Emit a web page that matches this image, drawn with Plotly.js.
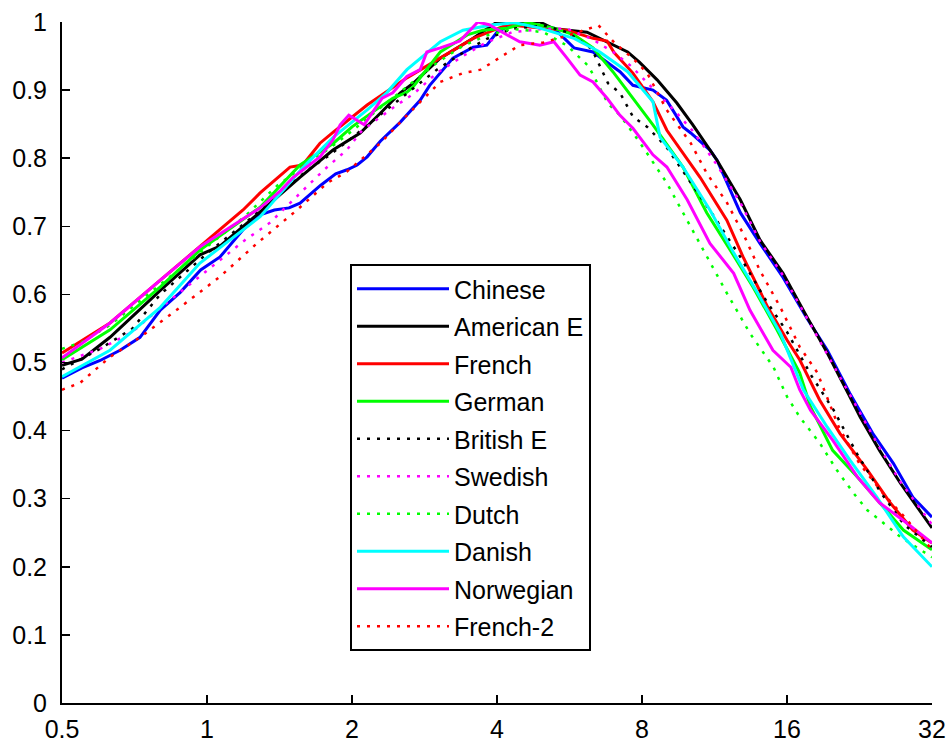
<!DOCTYPE html>
<html>
<head>
<meta charset="utf-8">
<script src="https://cdn.plot.ly/plotly-3.0.1.min.js"></script>
<style>html,body{margin:0;padding:0;background:#fff;}#chart{width:951px;height:738px;}</style>
</head>
<body>
<div id="chart"></div>
<script>
// ---- data ----
const xTicks = [0.5, 1, 2, 4, 8, 16, 32];
const xTickLabels = ["0.5", "1", "2", "4", "8", "16", "32"];
const yTicks = [0, 0.1, 0.2, 0.3, 0.4, 0.5, 0.6, 0.7, 0.8, 0.9, 1];
const yTickLabels = ["0", "0.1", "0.2", "0.3", "0.4", "0.5", "0.6", "0.7", "0.8", "0.9", "1"];

const chineseX = [0.5, 0.55, 0.6, 0.66, 0.726, 0.8, 0.88, 0.97, 1.064, 1.188, 1.289, 1.38, 1.48, 1.56, 1.72, 1.85, 1.953, 2.05, 2.15, 2.29, 2.52, 2.77, 2.9, 3.24, 3.57, 3.81, 4.0, 4.36, 4.64, 5.25, 5.78, 6.33, 7.2, 7.66, 8.43, 9.0, 9.45, 9.73, 10.1, 11.07, 11.45, 12.8, 14.06, 15.7, 17.6, 19.4, 21.6, 24.1, 26.6, 29.2, 32];
const chineseY = [0.477, 0.492, 0.503, 0.518, 0.537, 0.577, 0.603, 0.636, 0.655, 0.695, 0.717, 0.724, 0.727, 0.734, 0.76, 0.777, 0.783, 0.79, 0.802, 0.825, 0.853, 0.885, 0.907, 0.947, 0.963, 0.966, 0.985, 0.999, 0.996, 0.991, 0.962, 0.956, 0.927, 0.907, 0.900, 0.885, 0.861, 0.846, 0.837, 0.812, 0.797, 0.72, 0.675, 0.625, 0.565, 0.518, 0.455, 0.396, 0.352, 0.302, 0.273];

const americanX = [0.5, 0.55, 0.629, 0.8, 0.967, 1.064, 1.289, 1.559, 1.826, 2.08, 2.29, 2.52, 2.68, 3.05, 3.57, 4.0, 4.91, 5.25, 6.15, 6.54, 6.96, 7.47, 7.9, 8.43, 8.6, 9.45, 10.2, 11.45, 12.8, 14.06, 15.7, 17.6, 19.4, 21.6, 22.7, 24.9, 27.5, 29.8, 32];
const americanY = [0.496, 0.505, 0.537, 0.606, 0.658, 0.671, 0.721, 0.772, 0.812, 0.837, 0.866, 0.896, 0.910, 0.947, 0.976, 1.0, 1.0, 0.99, 0.985, 0.976, 0.966, 0.956, 0.941, 0.922, 0.915, 0.881, 0.849, 0.797, 0.739, 0.680, 0.631, 0.567, 0.514, 0.45, 0.42, 0.371, 0.323, 0.288, 0.257];

const frenchX = [0.5, 0.629, 0.8, 0.967, 1.188, 1.289, 1.487, 1.58, 1.716, 1.826, 1.953, 2.15, 2.6, 3.05, 3.57, 4.2, 4.91, 5.59, 6.33, 6.77, 7.0, 7.66, 8.43, 9.01, 10.56, 12.0, 12.97, 14.6, 16, 17.0, 18.7, 20.6, 23.5, 26.2, 29.2, 32];
const frenchY = [0.514, 0.558, 0.621, 0.67, 0.724, 0.749, 0.787, 0.790, 0.822, 0.838, 0.855, 0.878, 0.918, 0.947, 0.976, 0.996, 0.991, 0.988, 0.976, 0.972, 0.955, 0.925, 0.883, 0.841, 0.772, 0.709, 0.655, 0.581, 0.533, 0.504, 0.445, 0.396, 0.342, 0.294, 0.254, 0.235];

const germanX = [0.5, 0.629, 0.8, 0.967, 1.289, 1.56, 1.83, 2.0, 2.21, 2.43, 2.6, 2.68, 3.05, 3.47, 3.74, 4.2, 4.64, 5.25, 5.78, 6.33, 6.96, 7.66, 8.43, 9.73, 10.9, 12.2, 13.6, 15.25, 17.0, 17.9, 19.9, 22.4, 24.9, 27.9, 32];
const germanY = [0.504, 0.548, 0.611, 0.665, 0.728, 0.79, 0.822, 0.846, 0.868, 0.888, 0.897, 0.905, 0.956, 0.981, 0.988, 0.991, 0.999, 0.991, 0.981, 0.962, 0.927, 0.888, 0.849, 0.787, 0.72, 0.665, 0.611, 0.548, 0.485, 0.435, 0.371, 0.332, 0.294, 0.254, 0.225];

const britishX = [0.5, 0.6, 0.7, 0.8, 1.0, 1.2, 1.4, 1.6, 1.8, 2.0, 2.3, 2.6, 3.0, 3.4, 3.8, 4.3, 5.0, 5.6, 6.3, 6.8, 7.2, 7.66, 8.2, 9.0, 10.1, 11.3, 12.8, 14.5, 16, 18, 20, 22.4, 25, 28, 32];
const britishY = [0.49, 0.52, 0.55, 0.60, 0.66, 0.705, 0.745, 0.78, 0.805, 0.83, 0.865, 0.895, 0.93, 0.955, 0.975, 0.99, 0.995, 0.985, 0.96, 0.91, 0.896, 0.861, 0.846, 0.816, 0.764, 0.714, 0.655, 0.59, 0.545, 0.48, 0.43, 0.365, 0.31, 0.262, 0.229];

const swedishX = [0.5, 0.6, 0.7, 0.8, 1.0, 1.2, 1.35, 1.56, 1.75, 1.95, 2.1, 2.4, 2.7, 3.0, 3.4, 3.8, 4.3, 5.0, 5.6, 6.3, 7.0, 7.6, 8.5, 9.45, 10.2, 11.45, 12.8, 14.06, 15.7, 17.6, 19.4, 21.6, 24.9, 27.5, 32];
const swedishY = [0.50, 0.52, 0.545, 0.58, 0.635, 0.68, 0.705, 0.749, 0.783, 0.812, 0.841, 0.871, 0.896, 0.925, 0.95, 0.97, 0.985, 0.99, 0.99, 0.975, 0.955, 0.935, 0.90, 0.866, 0.84, 0.79, 0.735, 0.678, 0.628, 0.565, 0.512, 0.452, 0.375, 0.325, 0.262];

const dutchX = [0.5, 0.55, 0.629, 0.8, 1.0, 1.2, 1.4, 1.6, 1.8, 2.0, 2.3, 2.6, 3.0, 3.4, 3.8, 4.3, 5.0, 5.6, 6.2, 6.8, 7.2, 7.7, 8.04, 9.0, 9.93, 10.9, 12.0, 13.4, 15.0, 16.0, 17.0, 18.7, 20.3, 22.0, 23.5, 24.9, 27.5, 32];
const dutchY = [0.52, 0.53, 0.555, 0.615, 0.67, 0.715, 0.76, 0.79, 0.815, 0.84, 0.875, 0.905, 0.94, 0.965, 0.98, 0.99, 0.985, 0.965, 0.935, 0.88, 0.863, 0.835, 0.816, 0.764, 0.709, 0.655, 0.602, 0.543, 0.493, 0.45, 0.42, 0.382, 0.342, 0.308, 0.283, 0.269, 0.244, 0.214];

const danishX = [0.5, 0.629, 0.8, 0.967, 1.289, 1.59, 1.83, 2.15, 2.36, 2.6, 3.05, 3.4, 3.92, 4.36, 4.91, 5.78, 6.54, 7.47, 8.43, 8.72, 9.73, 11.07, 12.4, 13.9, 15.5, 17.3, 19.4, 21.6, 24.6, 27.9, 32];
const danishY = [0.479, 0.518, 0.581, 0.646, 0.714, 0.788, 0.831, 0.871, 0.896, 0.93, 0.971, 0.988, 0.996, 0.999, 0.991, 0.976, 0.956, 0.927, 0.883, 0.831, 0.787, 0.724, 0.661, 0.602, 0.543, 0.46, 0.405, 0.357, 0.302, 0.244, 0.20];

const norwegianX = [0.5, 0.629, 0.8, 0.967, 1.289, 1.42, 1.51, 1.716, 1.826, 1.89, 1.97, 2.12, 2.21, 2.31, 2.43, 2.6, 2.77, 2.86, 3.05, 3.35, 3.65, 3.85, 4.2, 4.46, 4.91, 5.25, 5.59, 5.95, 6.33, 6.77, 7.2, 7.66, 8.43, 9.01, 9.93, 11.07, 12.4, 13.4, 14.96, 16.3, 17.0, 17.9, 19.9, 22.4, 24.9, 28.4, 32];
const norwegianY = [0.507, 0.558, 0.621, 0.67, 0.727, 0.752, 0.772, 0.802, 0.827, 0.849, 0.863, 0.849, 0.868, 0.888, 0.896, 0.92, 0.93, 0.956, 0.962, 0.972, 1.0, 0.996, 0.981, 0.971, 0.966, 0.971, 0.947, 0.922, 0.912, 0.888, 0.863, 0.844, 0.805, 0.787, 0.739, 0.675, 0.631, 0.577, 0.518, 0.493, 0.46, 0.43, 0.386, 0.332, 0.294, 0.264, 0.235];

const french2X = [0.5, 0.545, 0.629, 0.726, 0.879, 1.064, 1.27, 1.538, 1.66, 1.78, 1.95, 2.29, 2.6, 3.05, 3.4, 3.7, 4.1, 4.46, 5.0, 5.6, 6.5, 7.0, 7.7, 8.2, 9.0, 10.1, 10.9, 12.0, 13.0, 14.06, 15.5, 17.0, 18.5, 19.4, 20.5, 22.6, 25.3, 28.4, 32];
const french2Y = [0.46, 0.47, 0.508, 0.537, 0.581, 0.626, 0.675, 0.724, 0.745, 0.764, 0.78, 0.822, 0.863, 0.912, 0.925, 0.93, 0.95, 0.966, 0.97, 0.98, 0.995, 0.97, 0.945, 0.925, 0.871, 0.822, 0.778, 0.735, 0.688, 0.635, 0.581, 0.523, 0.485, 0.449, 0.405, 0.352, 0.308, 0.269, 0.225];

const seriesNames = ["Chinese", "American E", "French", "German", "British E", "Swedish", "Dutch", "Danish", "Norwegian", "French-2"];
const seriesX = [chineseX, americanX, frenchX, germanX, britishX, swedishX, dutchX, danishX, norwegianX, french2X];
const seriesY = [chineseY, americanY, frenchY, germanY, britishY, swedishY, dutchY, danishY, norwegianY, french2Y];
const seriesColors = ["#0000FF", "#000000", "#FF0000", "#00FF00", "#000000", "#FF00FF", "#00FF00", "#00FFFF", "#FF00FF", "#FF0000"];
const seriesDotted = [false, false, false, false, true, true, true, false, false, true];

// ---- traces ----
const traces = seriesNames.map((name, i) => ({
  type: "scatter",
  mode: "lines",
  name: name,
  x: seriesX[i],
  y: seriesY[i],
  legendgroup: "g" + i,
  line: {
    color: seriesColors[i],
    width: seriesDotted[i] ? 2.5 : 3,
    dash: seriesDotted[i] ? "3px,7px" : "solid"
  }
}));

const FONT = "Arial, 'Liberation Sans', Helvetica, sans-serif";

const layout = {
  width: 951,
  height: 738,
  margin: { l: 62, r: 19, t: 22, b: 35 },
  paper_bgcolor: "#ffffff",
  plot_bgcolor: "#ffffff",
  showlegend: true,
  font: { family: FONT, size: 25, color: "#000" },
  xaxis: {
    type: "log",
    range: [Math.log10(0.5), Math.log10(32)],
    tickmode: "array",
    tickvals: xTicks,
    ticktext: xTickLabels,
    ticks: "inside",
    ticklen: 8,
    tickwidth: 1.5,
    tickcolor: "#000",
    showline: true,
    linecolor: "#000",
    linewidth: 2,
    showgrid: false,
    zeroline: false,
    mirror: false,
    ticklabelstandoff: 3,
    tickfont: { family: FONT, size: 25, color: "#000" }
  },
  yaxis: {
    range: [0, 1],
    tickmode: "array",
    tickvals: yTicks,
    ticktext: yTickLabels,
    ticks: "inside",
    ticklen: 8,
    tickwidth: 1.5,
    tickcolor: "#000",
    showline: true,
    linecolor: "#000",
    linewidth: 2,
    showgrid: false,
    zeroline: false,
    mirror: false,
    ticklabelstandoff: 8,
    tickfont: { family: FONT, size: 25, color: "#000" }
  },
  legend: {
    x: (350 - 62) / 870,
    y: (703 - 264) / 681,
    xanchor: "left",
    yanchor: "top",
    bgcolor: "#ffffff",
    bordercolor: "#000",
    borderwidth: 2,
    traceorder: "grouped",
    tracegroupgap: 2,
    itemwidth: 92,
    font: { family: FONT, size: 25, color: "#000" }
  }
};

Plotly.newPlot("chart", traces, layout, { staticPlot: true, displayModeBar: false });
</script>
</body>
</html>
